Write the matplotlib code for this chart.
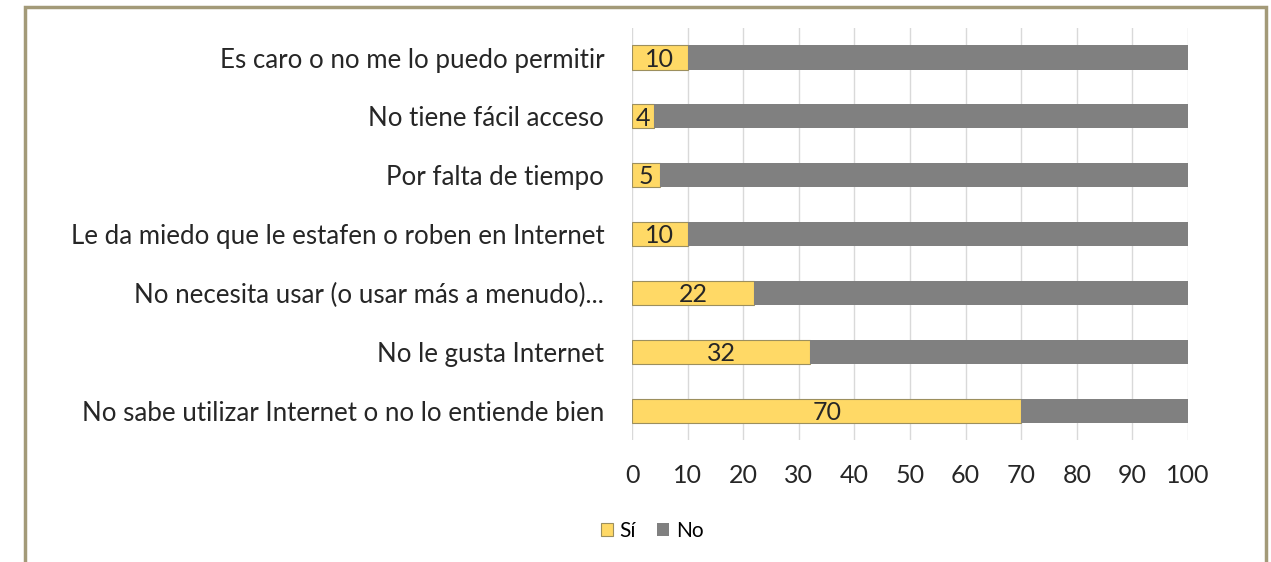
import matplotlib.pyplot as plt
from matplotlib.patches import Rectangle, Patch

# Reasons for not using Internet (more), share answering yes / no
categories = [
    "No sabe utilizar Internet o no lo entiende bien",
    "No le gusta Internet",
    "No necesita usar (o usar más a menudo)...",
    "Le da miedo que le estafen o roben en Internet",
    "Por falta de tiempo",
    "No tiene fácil acceso",
    "Es caro o no me lo puedo permitir",
]
si_values = [70, 32, 22, 10, 5, 4, 10]
no_values = [30, 68, 78, 90, 95, 96, 90]
x_ticks = [0, 10, 20, 30, 40, 50, 60, 70, 80, 90, 100]

YELLOW = "#FFD966"
GRAY = "#808080"
TEXT = "#262626"

plt.rcParams['font.family'] = ['Lato', 'DejaVu Sans']

fig = plt.figure(figsize=(12.71, 5.62), dpi=100)
ax = fig.add_axes([0.4973, 0.217, 0.4374, 0.733])

pos = range(len(categories))
ax.barh(pos, si_values, height=0.41, color=YELLOW, edgecolor="#9c8f5e",
        linewidth=0.8, label="Sí", zorder=3)
ax.barh(pos, no_values, left=si_values, height=0.41, color=GRAY,
        linewidth=0, label="No", zorder=3)

for y, v in zip(pos, si_values):
    ax.text(v / 2, y - 0.03, str(v), ha="center", va="center", fontsize=18,
            color=TEXT, zorder=4)

ax.set_xlim(0, 100)
ax.set_ylim(-0.5, len(categories) - 0.5)
ax.set_xticks(x_ticks)
ax.set_yticks(list(pos))
ax.set_yticklabels(categories)
ax.tick_params(axis="both", length=0, colors=TEXT)
ax.tick_params(axis="y", pad=20, labelsize=18.6)
ax.tick_params(axis="x", pad=17, labelsize=18)
ax.grid(axis="x", color="#d9d9d9", linewidth=1, zorder=0)
for s in ax.spines.values():
    s.set_visible(False)

handles = [Patch(facecolor=YELLOW, edgecolor="#9c8f5e", linewidth=0.8),
           Patch(facecolor=GRAY)]
fig.legend(handles, ["Sí", "No"], loc="center", bbox_to_anchor=(0.513, 0.055),
           ncol=2, frameon=False, fontsize=15, handlelength=0.6,
           handleheight=0.6, handletextpad=0.3, columnspacing=1.0)

# olive frame around the chart
fig.patches.append(Rectangle((0.0197, -0.05), 0.976, 1.0375,
                             transform=fig.transFigure, fill=False,
                             edgecolor="#a39a78", linewidth=2.5))

fig.savefig("out.png", dpi=100)
